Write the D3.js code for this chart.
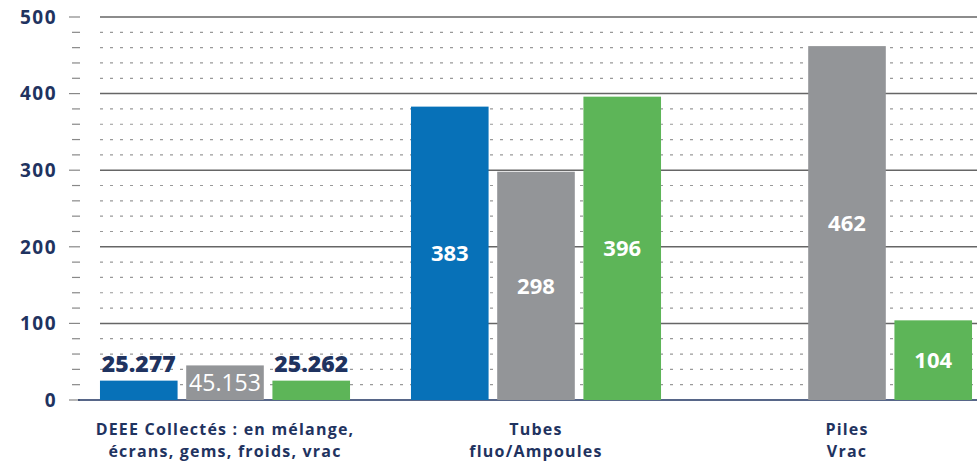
<!DOCTYPE html>
<html><head><meta charset="utf-8">
<script src="https://cdn.jsdelivr.net/npm/d3@7"></script>
<style>body{margin:0;background:#fff}svg{display:block}text{font-family:"Open Sans",Lato,sans-serif}</style>
</head><body>
<svg id="c" width="977" height="465"></svg>
<script>
const categories = [["DEEE Collectés : en mélange,","écrans, gems, froids, vrac"],["Tubes","fluo/Ampoules"],["Piles","Vrac"]];
const seriesNames = ["s1","s2","s3"];
const s1 = [25.277, 383, null];
const s2 = [45.153, 298, 462];
const s3 = [25.262, 396, 104];
const valueLabels = [["25.277","45.153","25.262"],["383","298","396"],[null,"462","104"]];
const yTicks = [0,100,200,300,400,500];
const colors = ["#0771b8","#939598","#5db558"];
const navy = "#1f3360";

const svg = d3.select("#c");
const y = d3.scaleLinear().domain([0,500]).range([400,17]);
const x0 = d3.scaleBand().domain(d3.range(3)).range([69.5,1002.5]).paddingInner(0.196).paddingOuter(0.098);
const x1 = d3.scaleBand().domain(seriesNames).range([0,x0.bandwidth()]).paddingInner(0.1);

const minor = d3.range(0,501,20);
minor.forEach(v=>{
  const major = v%100===0;
  svg.append("line").attr("x1",major?69:72).attr("x2",80).attr("y1",y(v)).attr("y2",y(v))
    .attr("stroke","#888").attr("stroke-width",1.2);
  if(v===0) return;
  svg.append("line").attr("x1",100).attr("x2",977).attr("y1",y(v)).attr("y2",y(v))
    .attr("stroke",major?"#666":"#999").attr("stroke-width",major?1.5:1.2)
    .attr("stroke-dasharray",major?null:"3,7");
});
svg.append("line").attr("x1",78).attr("x2",977).attr("y1",y(0)).attr("y2",y(0)).attr("stroke",navy).attr("stroke-width",1.5);

svg.selectAll("text.yl").data(yTicks).enter().append("text").attr("class","yl")
  .attr("x",57).attr("y",d=>y(d)).attr("dy","0.36em").attr("text-anchor","end")
  .attr("fill",navy).attr("font-size",19).attr("font-weight",700).attr("letter-spacing",1.5).text(d=>d);

const series = [s1,s2,s3];
categories.forEach((cat,i)=>{
  const g = svg.append("g").attr("transform",`translate(${x0(i)},0)`);
  series.forEach((s,j)=>{
    const v = s[i];
    if(v==null) return;
    const bx = x1(seriesNames[j]), bw = x1.bandwidth();
    g.append("rect").attr("x",bx).attr("width",bw).attr("y",y(v)).attr("height",y(0)-y(v)).attr("fill",colors[j]);
    const lab = valueLabels[i][j];
    const h = y(0)-y(v);
    if(h>=30){
      g.append("text").attr("x",bx+bw/2).attr("y",(y(v)+y(0))/2).attr("dy","0.36em")
        .attr("text-anchor","middle").attr("fill","#fff")
        .attr("font-size",i===0?23:22).attr("font-weight",i===0?500:700).text(lab);
    } else {
      g.append("text").attr("x",bx+bw/2).attr("y",y(v)-9)
        .attr("text-anchor","middle").attr("fill",navy)
        .attr("font-size",23).attr("font-weight",800).text(lab);
    }
  });
  const cx = x0(i)+x0.bandwidth()/2;
  cat.forEach((line,k)=>svg.append("text").attr("x",cx).attr("y",435+k*22)
    .attr("text-anchor","middle").attr("fill",navy).attr("font-size",16).attr("font-weight",700)
    .attr("letter-spacing",1.2).text(line));
});
</script>
</body></html>
